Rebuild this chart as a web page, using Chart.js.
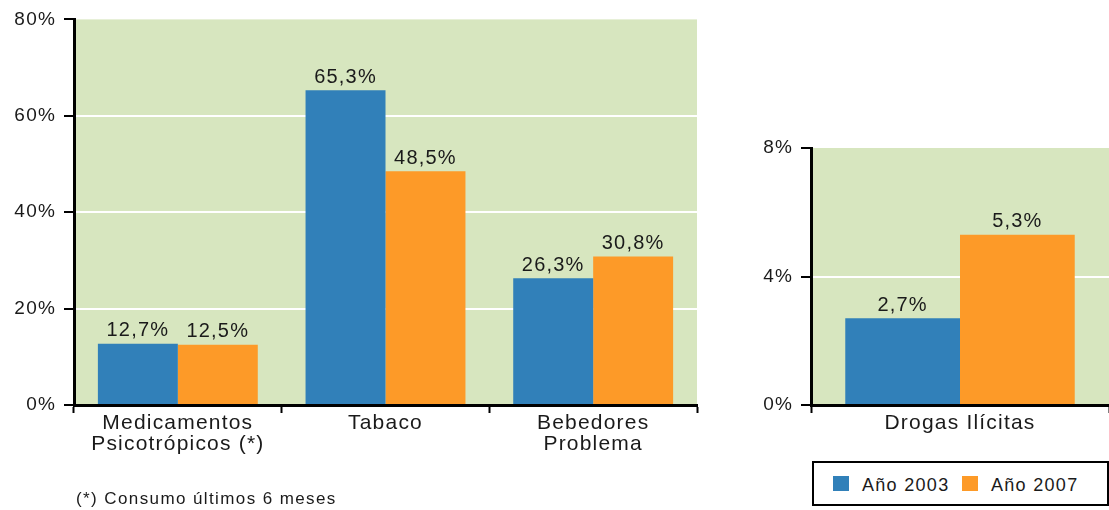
<!DOCTYPE html>
<html>
<head>
<meta charset="utf-8">
<script src="https://cdn.jsdelivr.net/npm/chart.js@4.4.1/dist/chart.umd.min.js"></script>
<style>
  html, body { margin: 0; padding: 0; background: #fff; }
  body { width: 1109px; height: 510px; position: relative; overflow: hidden;
         font-family: "Liberation Sans", Arial, sans-serif; color: #1a1a1a; }
  #leftWrap { position: absolute; left: 0; top: 0; width: 710px; height: 510px; }
  #rightWrap { position: absolute; left: 700px; top: 0; width: 409px; height: 510px; }
  .note { position: absolute; left: 76px; top: 489px; font-size: 17px; letter-spacing: 1.4px; white-space: nowrap; }
  .legend { position: absolute; left: 812px; top: 461px; width: 297px; height: 45px; box-sizing: border-box;
            border: 2px solid #000; background: #fff; }
  .legend .item { position: absolute; top: 13px; font-size: 18px; letter-spacing: 1.3px; line-height: 18px; white-space: nowrap; }
  .legend .sw { display: inline-block; width: 16px; height: 15px; vertical-align: top; margin-right: 13px; }
</style>
</head>
<body>
<div id="leftWrap"><canvas id="leftChart" width="710" height="510"></canvas></div>
<div id="rightWrap"><canvas id="rightChart" width="409" height="510"></canvas></div>
<div class="note">(*) Consumo últimos 6 meses</div>
<div class="legend" id="legend"></div>
<script>
// datos
const seriesNames = ['Año 2003', 'Año 2007'];
const seriesColors = ['#3180b9', '#fd9a28'];
const leftCategories = [['Medicamentos', 'Psicotrópicos (*)'], 'Tabaco', ['Bebedores', 'Problema']];
const left2003 = [12.7, 65.3, 26.3];
const left2007 = [12.5, 48.5, 30.8];
const leftTicks = [0, 20, 40, 60, 80];
const rightCategories = ['Drogas Ilícitas'];
const right2003 = [2.7];
const right2007 = [5.3];
const rightTicks = [0, 4, 8];

const FONT = '"Liberation Sans", Arial, sans-serif';
const TXT = '#1a1a1a';
const PLOT_BG = '#d7e6bf';
const SPACING = '1.2px';

// fondo verde + espaciado de letras
const plotBackground = {
    id: 'plotBackground',
    beforeUpdate(chart) { chart.ctx.letterSpacing = SPACING; },
    beforeDraw(chart) {
        const { ctx, chartArea: a } = chart;
        ctx.letterSpacing = SPACING;
        ctx.save();
        ctx.fillStyle = PLOT_BG;
        ctx.fillRect(a.left, a.top, a.right - a.left, a.bottom - a.top);
        ctx.restore();
    }
};

// etiquetas de valor encima de cada barra
const valueLabels = {
    id: 'valueLabels',
    afterDatasetsDraw(chart) {
        const ctx = chart.ctx;
        ctx.save();
        ctx.font = '20px ' + FONT;
        ctx.letterSpacing = SPACING;
        ctx.fillStyle = TXT;
        ctx.textAlign = 'center';
        ctx.textBaseline = 'bottom';
        chart.data.datasets.forEach((ds, i) => {
            chart.getDatasetMeta(i).data.forEach((bar, j) => {
                const txt = ds.data[j].toFixed(1).replace('.', ',') + '%';
                ctx.fillText(txt, bar.x, bar.y - 3);
            });
        });
        ctx.restore();
    }
};

function makeChart(id, labels, d2003, d2007, ticks, opts) {
    const max = ticks[ticks.length - 1];
    return new Chart(document.getElementById(id), {
        type: 'bar',
        data: {
            labels: labels,
            datasets: [
                { label: seriesNames[0], data: d2003, backgroundColor: seriesColors[0] },
                { label: seriesNames[1], data: d2007, backgroundColor: seriesColors[1] }
            ]
        },
        options: {
            responsive: false,
            animation: false,
            categoryPercentage: 0.77,
            barPercentage: 1,
            layout: { padding: opts.padding },
            plugins: { legend: { display: false }, tooltip: { enabled: false } },
            scales: {
                x: {
                    grid: { drawOnChartArea: false, offset: true, tickColor: '#000', tickLength: 8, tickWidth: 2 },
                    border: { color: '#000', width: 3 },
                    ticks: { color: TXT, font: { family: FONT, size: 21, lineHeight: 1.0 }, padding: 0 },
                    afterFit(s) { s.height = 105; }
                },
                y: {
                    min: 0, max: max,
                    grid: {
                        color: c => (c.tick && c.tick.value > 0 && c.tick.value < max) ? '#ffffff' : 'rgba(0,0,0,0)',
                        lineWidth: 2, tickColor: '#000', tickLength: 10, tickWidth: 2
                    },
                    border: { color: '#000', width: 3 },
                    ticks: {
                        stepSize: ticks[1] - ticks[0],
                        color: TXT, font: { family: FONT, size: 19 }, padding: 8,
                        callback: v => v + '%'
                    },
                    afterFit(s) { s.width = opts.yWidth; }
                }
            }
        },
        plugins: [plotBackground, valueLabels]
    });
}

makeChart('leftChart', leftCategories, left2003, left2007, leftTicks,
    { padding: { top: 18, right: 13, left: 0, bottom: 0 }, yWidth: 74 });
makeChart('rightChart', rightCategories, right2003, right2007, rightTicks,
    { padding: { top: 148, right: 0, left: 0, bottom: 0 }, yWidth: 111 });

// leyenda
const legend = document.getElementById('legend');
const itemLeft = [19, 148];
seriesNames.forEach((name, i) => {
    const it = document.createElement('div');
    it.className = 'item';
    it.style.left = itemLeft[i] + 'px';
    it.innerHTML = '<span class="sw" style="background:' + seriesColors[i] + '"></span>' + name;
    legend.appendChild(it);
});
</script>
</body>
</html>
